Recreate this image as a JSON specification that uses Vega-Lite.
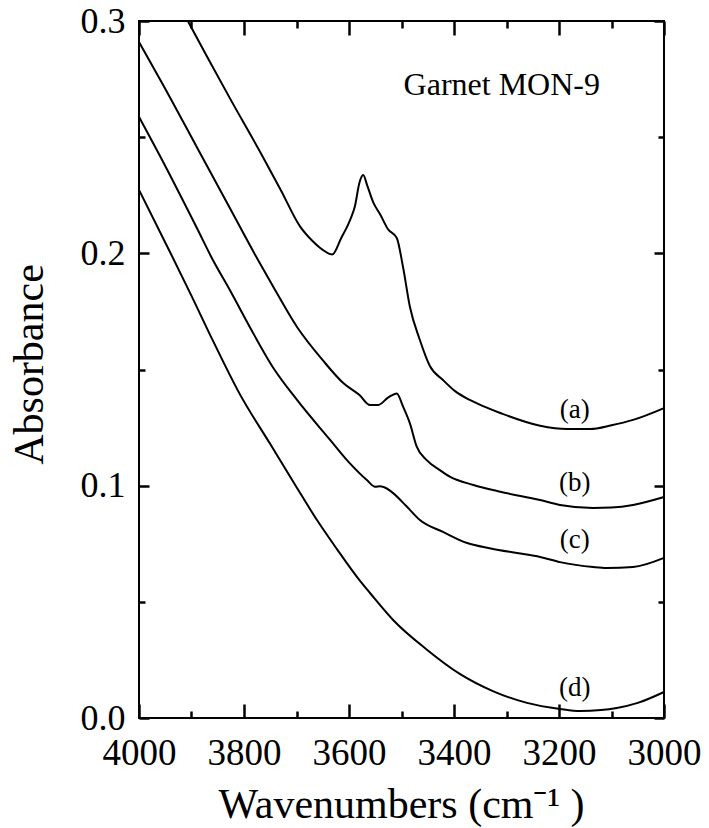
{
  "$schema": "https://vega.github.io/schema/vega-lite/v6.json",
  "autosize": {"type": "none"},
  "padding": {"left": 139, "top": 21, "right": 45, "bottom": 110},
  "width": 525,
  "height": 697,
  "background": "white",
  "config": {
    "view": {"stroke": "black", "strokeWidth": 2},
    "font": "Liberation Serif",
    "axis": {"domain": false, "grid": false, "tickColor": "black", "tickWidth": 2.5, "labelColor": "black", "titleColor": "black", "labelFont": "Liberation Serif", "titleFont": "Liberation Serif", "titleFontWeight": "normal"}
  },
  "datasets": {
    "curves": [
      {"series": "a", "wn": 3907, "A": 0.300},
      {"series": "a", "wn": 3870, "A": 0.2845},
      {"series": "a", "wn": 3827, "A": 0.2668},
      {"series": "a", "wn": 3764, "A": 0.2415},
      {"series": "a", "wn": 3730, "A": 0.2273},
      {"series": "a", "wn": 3693, "A": 0.2115},
      {"series": "a", "wn": 3669, "A": 0.2052},
      {"series": "a", "wn": 3650, "A": 0.2015},
      {"series": "a", "wn": 3632, "A": 0.1995},
      {"series": "a", "wn": 3615, "A": 0.2065},
      {"series": "a", "wn": 3598, "A": 0.2143},
      {"series": "a", "wn": 3589, "A": 0.220},
      {"series": "a", "wn": 3580, "A": 0.2305},
      {"series": "a", "wn": 3573, "A": 0.2337},
      {"series": "a", "wn": 3565, "A": 0.229},
      {"series": "a", "wn": 3554, "A": 0.222},
      {"series": "a", "wn": 3540, "A": 0.2165},
      {"series": "a", "wn": 3526, "A": 0.2105},
      {"series": "a", "wn": 3509, "A": 0.2066},
      {"series": "a", "wn": 3497, "A": 0.194},
      {"series": "a", "wn": 3484, "A": 0.177},
      {"series": "a", "wn": 3465, "A": 0.1627},
      {"series": "a", "wn": 3446, "A": 0.1515},
      {"series": "a", "wn": 3421, "A": 0.1455},
      {"series": "a", "wn": 3398, "A": 0.1407},
      {"series": "a", "wn": 3370, "A": 0.1369},
      {"series": "a", "wn": 3341, "A": 0.1339},
      {"series": "a", "wn": 3312, "A": 0.1313},
      {"series": "a", "wn": 3236, "A": 0.1258},
      {"series": "a", "wn": 3185, "A": 0.1244},
      {"series": "a", "wn": 3141, "A": 0.1244},
      {"series": "a", "wn": 3100, "A": 0.126},
      {"series": "a", "wn": 3059, "A": 0.1283},
      {"series": "a", "wn": 3000, "A": 0.1334},
      {"series": "b", "wn": 4000, "A": 0.291},
      {"series": "b", "wn": 3954, "A": 0.2725},
      {"series": "b", "wn": 3890, "A": 0.2458},
      {"series": "b", "wn": 3827, "A": 0.2195},
      {"series": "b", "wn": 3773, "A": 0.197},
      {"series": "b", "wn": 3744, "A": 0.1855},
      {"series": "b", "wn": 3699, "A": 0.1683},
      {"series": "b", "wn": 3650, "A": 0.154},
      {"series": "b", "wn": 3611, "A": 0.1442},
      {"series": "b", "wn": 3580, "A": 0.139},
      {"series": "b", "wn": 3560, "A": 0.1347},
      {"series": "b", "wn": 3545, "A": 0.1347},
      {"series": "b", "wn": 3525, "A": 0.138},
      {"series": "b", "wn": 3509, "A": 0.1397},
      {"series": "b", "wn": 3497, "A": 0.134},
      {"series": "b", "wn": 3484, "A": 0.1268},
      {"series": "b", "wn": 3471, "A": 0.1168},
      {"series": "b", "wn": 3452, "A": 0.111},
      {"series": "b", "wn": 3427, "A": 0.1067},
      {"series": "b", "wn": 3408, "A": 0.1039},
      {"series": "b", "wn": 3363, "A": 0.1003},
      {"series": "b", "wn": 3312, "A": 0.0974},
      {"series": "b", "wn": 3236, "A": 0.0938},
      {"series": "b", "wn": 3198, "A": 0.0917},
      {"series": "b", "wn": 3135, "A": 0.0904},
      {"series": "b", "wn": 3100, "A": 0.0906},
      {"series": "b", "wn": 3059, "A": 0.0917},
      {"series": "b", "wn": 3000, "A": 0.0951},
      {"series": "c", "wn": 4000, "A": 0.2587},
      {"series": "c", "wn": 3954, "A": 0.2393},
      {"series": "c", "wn": 3890, "A": 0.211},
      {"series": "c", "wn": 3859, "A": 0.197},
      {"series": "c", "wn": 3827, "A": 0.1842},
      {"series": "c", "wn": 3789, "A": 0.1683},
      {"series": "c", "wn": 3745, "A": 0.151},
      {"series": "c", "wn": 3699, "A": 0.1369},
      {"series": "c", "wn": 3636, "A": 0.1197},
      {"series": "c", "wn": 3600, "A": 0.110},
      {"series": "c", "wn": 3566, "A": 0.1024},
      {"series": "c", "wn": 3550, "A": 0.0995},
      {"series": "c", "wn": 3541, "A": 0.0998},
      {"series": "c", "wn": 3533, "A": 0.0993},
      {"series": "c", "wn": 3516, "A": 0.0968},
      {"series": "c", "wn": 3490, "A": 0.091},
      {"series": "c", "wn": 3465, "A": 0.0852},
      {"series": "c", "wn": 3420, "A": 0.080},
      {"series": "c", "wn": 3375, "A": 0.0753},
      {"series": "c", "wn": 3330, "A": 0.073},
      {"series": "c", "wn": 3280, "A": 0.071},
      {"series": "c", "wn": 3236, "A": 0.0693},
      {"series": "c", "wn": 3198, "A": 0.0671},
      {"series": "c", "wn": 3135, "A": 0.065},
      {"series": "c", "wn": 3109, "A": 0.0646},
      {"series": "c", "wn": 3059, "A": 0.065},
      {"series": "c", "wn": 3000, "A": 0.0689},
      {"series": "d", "wn": 4000, "A": 0.2273},
      {"series": "d", "wn": 3941, "A": 0.2006},
      {"series": "d", "wn": 3900, "A": 0.1817},
      {"series": "d", "wn": 3859, "A": 0.1623},
      {"series": "d", "wn": 3808, "A": 0.1394},
      {"series": "d", "wn": 3750, "A": 0.1179},
      {"series": "d", "wn": 3699, "A": 0.099},
      {"series": "d", "wn": 3661, "A": 0.0852},
      {"series": "d", "wn": 3623, "A": 0.0727},
      {"series": "d", "wn": 3579, "A": 0.059},
      {"series": "d", "wn": 3560, "A": 0.0538},
      {"series": "d", "wn": 3516, "A": 0.0422},
      {"series": "d", "wn": 3451, "A": 0.0293},
      {"series": "d", "wn": 3389, "A": 0.019},
      {"series": "d", "wn": 3326, "A": 0.0116},
      {"series": "d", "wn": 3261, "A": 0.0065},
      {"series": "d", "wn": 3198, "A": 0.0039},
      {"series": "d", "wn": 3160, "A": 0.003},
      {"series": "d", "wn": 3120, "A": 0.0034},
      {"series": "d", "wn": 3090, "A": 0.0043},
      {"series": "d", "wn": 3050, "A": 0.0065},
      {"series": "d", "wn": 3000, "A": 0.0112}
    ],
    "labels": [
      {"wn": 3170, "A": 0.1326, "label": "(a)"},
      {"wn": 3170, "A": 0.1011, "label": "(b)"},
      {"wn": 3170, "A": 0.0766, "label": "(c)"},
      {"wn": 3170, "A": 0.0129, "label": "(d)"}
    ],
    "heading": [
      {"wn": 3309, "A": 0.2725, "label": "Garnet MON-9"}
    ]
  },
  "resolve": {"axis": {"x": "independent", "y": "independent"}},
  "layer": [
    {
      "data": {"name": "curves"},
      "transform": [{"filter": "datum.series == 'a' || datum.series == 'b'"}],
      "mark": {"type": "line", "color": "black", "strokeWidth": 2, "interpolate": "monotone"},
      "encoding": {
        "x": {"field": "wn", "type": "quantitative", "scale": {"domain": [3000, 4000], "reverse": true, "nice": false, "zero": false},
          "axis": {"orient": "bottom", "offset": -14, "values": [4000, 3800, 3600, 3400, 3200, 3000], "format": "d", "tickSize": 14, "labelPadding": 17, "labelFontSize": 37, "labelFlush": false, "labelOverlap": false, "title": "Wavenumbers (cm⁻¹ )", "titleFontSize": 42, "titleX": 262, "titleY": 113, "titleBaseline": "alphabetic", "titleAlign": "center"}},
        "y": {"field": "A", "type": "quantitative", "scale": {"domain": [0, 0.3], "nice": false, "zero": false},
          "axis": {"orient": "left", "offset": -10, "values": [0, 0.1, 0.2, 0.3], "format": ".1f", "tickSize": 10, "labelPadding": 14, "labelFontSize": 36, "labelFlush": false, "labelOverlap": false, "labelBaseline": "middle", "title": "Absorbance", "titleFontSize": 42, "titleAngle": -90, "titleX": -120, "titleY": 343, "titleBaseline": "middle", "titleAlign": "center"}},
        "detail": {"field": "series"}
      }
    },
    {
      "data": {"name": "curves"},
      "transform": [{"filter": "datum.series == 'c' || datum.series == 'd'"}],
      "mark": {"type": "line", "color": "black", "strokeWidth": 2, "interpolate": "monotone"},
      "encoding": {
        "x": {"field": "wn", "type": "quantitative",
          "axis": {"orient": "bottom", "offset": -7, "values": [3900, 3700, 3500, 3300, 3100], "tickSize": 7, "labels": false, "title": null}},
        "y": {"field": "A", "type": "quantitative",
          "axis": {"orient": "left", "offset": -6, "values": [0.05, 0.15, 0.25], "tickSize": 6, "labels": false, "title": null}},
        "detail": {"field": "series"}
      }
    },
    {
      "data": {"name": "labels"},
      "mark": {"type": "text", "font": "Liberation Serif", "fontSize": 27, "color": "black", "align": "center", "baseline": "middle"},
      "encoding": {
        "x": {"field": "wn", "type": "quantitative",
          "axis": {"orient": "top", "offset": -14, "values": [4000, 3800, 3600, 3400, 3200, 3000], "tickSize": 14, "labels": false, "title": null}},
        "y": {"field": "A", "type": "quantitative",
          "axis": {"orient": "right", "offset": -10, "values": [0, 0.1, 0.2, 0.3], "tickSize": 10, "labels": false, "title": null}},
        "text": {"field": "label"}
      }
    },
    {
      "data": {"name": "heading"},
      "mark": {"type": "text", "font": "Liberation Serif", "fontSize": 32, "color": "black", "align": "center", "baseline": "middle"},
      "encoding": {
        "x": {"field": "wn", "type": "quantitative",
          "axis": {"orient": "top", "offset": -7, "values": [3900, 3700, 3500, 3300, 3100], "tickSize": 7, "labels": false, "title": null}},
        "y": {"field": "A", "type": "quantitative",
          "axis": {"orient": "right", "offset": -6, "values": [0.05, 0.15, 0.25], "tickSize": 6, "labels": false, "title": null}},
        "text": {"field": "label"}
      }
    }
  ]
}
